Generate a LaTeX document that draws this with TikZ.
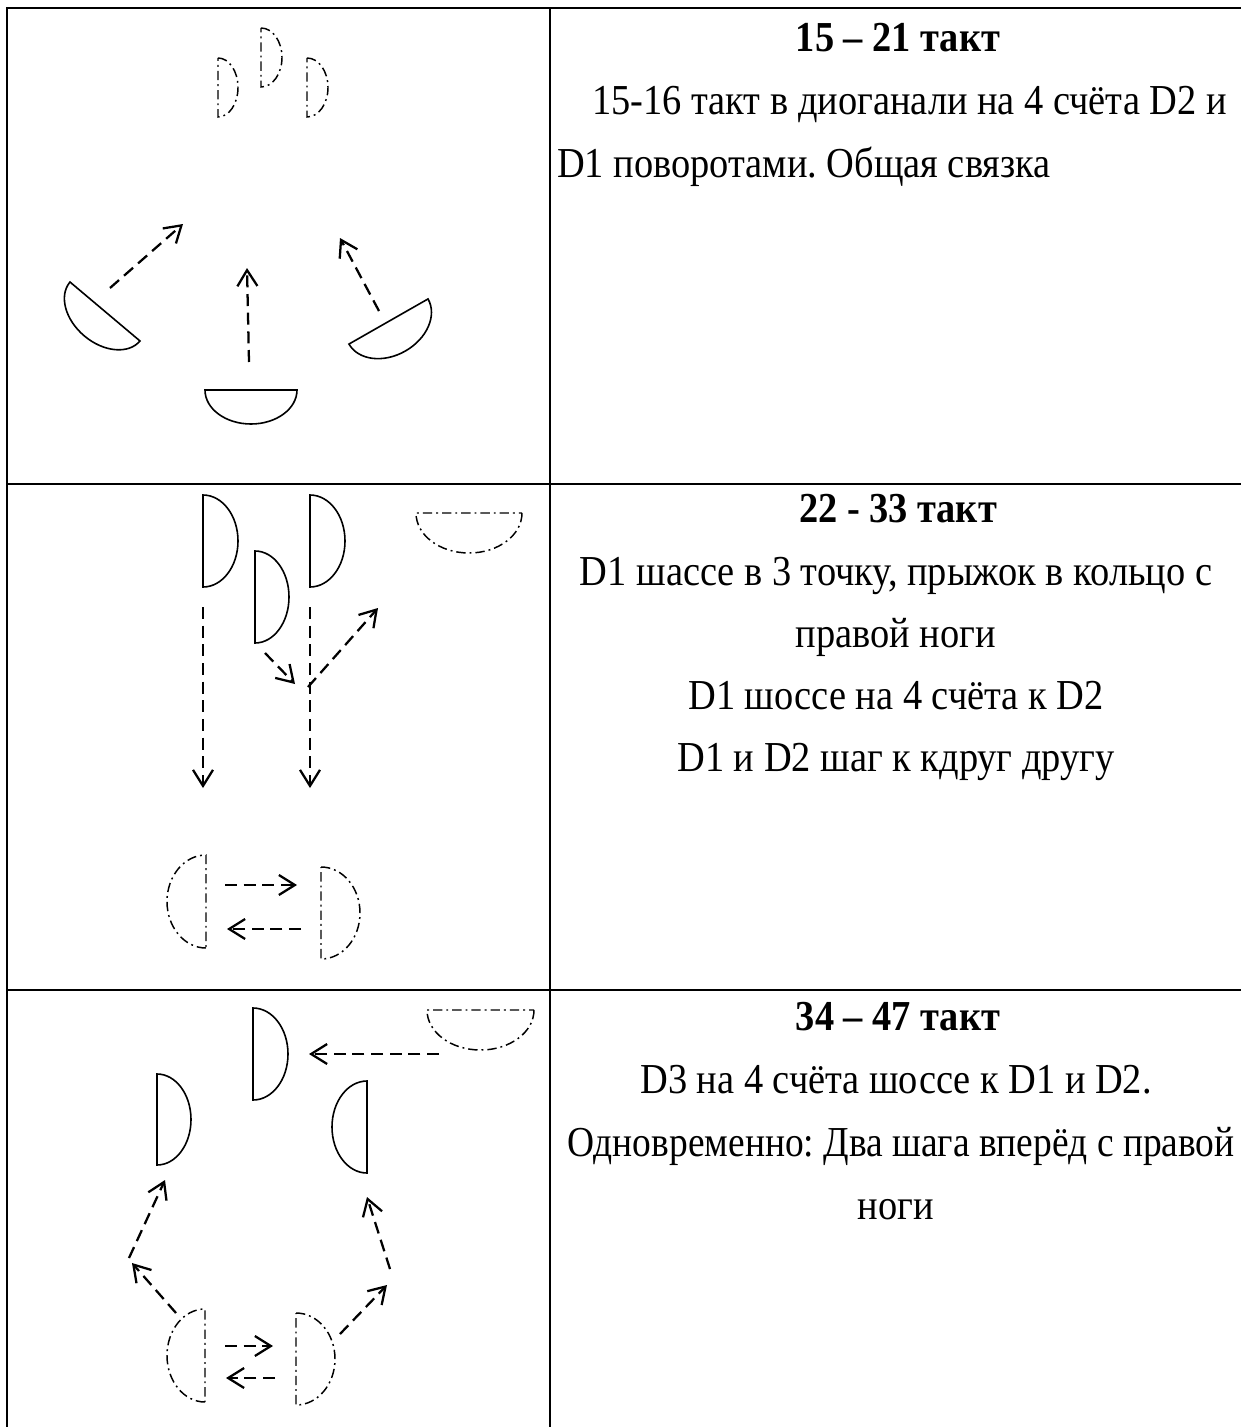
\documentclass[tikz,border=0pt]{standalone}
\usepackage{fontspec}
\setmainfont{Liberation Serif}[FakeStretch=0.9]
\usetikzlibrary{arrows.meta}
\newcommand\halfel[6]{%
  \draw[#1, shift={(#2,-#3)}, rotate=#4] (#5,0) arc[start angle=0, end angle=-180, x radius=#5, y radius=#6] -- cycle;}
\frenchspacing
\begin{document}
\begin{tikzpicture}[x=0.75pt,y=0.75pt,
  grid/.style={line width=1.5pt},
  solidD/.style={line width=1.2pt},
  dotD/.style={line width=1.1pt, dash pattern=on 7pt off 3pt on 1.4pt off 3pt},
  mv/.style={line width=1.7pt, dash pattern=on 9pt off 5pt,
    -{Straight Barb[length=12pt,width=15pt,line width=1.7pt]}},
  txt/.style={inner sep=0pt, font=\fontsize{32}{37}\selectfont},
  ttl/.style={inner sep=0pt, font=\fontsize{32}{37}\selectfont\bfseries}]
\useasboundingbox (0,0) rectangle (1241,-1427);
\fill[white] (0,0) rectangle (1241,-1427);
% table
\draw[grid] (1241,-8) -- (7,-8) -- (7,-1427);
\draw[grid] (550,-8) -- (550,-1427);
\draw[grid] (7,-484) -- (1241,-484);
\draw[grid] (7,-990) -- (1241,-990);
% ---------- row 1 ----------
\halfel{dotD}{218}{87.5}{90}{29.5}{20}
\halfel{dotD}{261}{57.5}{90}{29.5}{21}
\halfel{dotD}{307}{87.5}{90}{29.5}{21}
\halfel{solidD}{105}{311.5}{-40.1}{45.75}{32}
\halfel{solidD}{251}{390}{0}{46}{34}
\halfel{solidD}{388.5}{321.5}{29.7}{45.5}{34}
\coordinate (a1s) at (110,-288); \coordinate (a1e) at (183,-224);
\coordinate (a2s) at (249,-362); \coordinate (a2e) at (247,-268);
\coordinate (a3s) at (379,-311); \coordinate (a3e) at (340,-238);
\draw[mv] (a1s) -- (a1e);
\draw[mv] (a2s) -- (a2e);
\draw[mv] (a3s) -- (a3e);
\node[ttl, anchor=base] (t1) at (898,-52) {15 – 21 такт};
\node[txt, anchor=base west] (t1a) at (592,-115) {15-16 такт в диоганали на 4 счёта D2 и};
\node[txt, anchor=base west] (t1b) at (557,-177) {D1 поворотами. Общая связка};
% ---------- row 2 ----------
\halfel{solidD}{203}{541}{90}{46}{35}
\halfel{solidD}{255}{597}{90}{46}{34}
\halfel{solidD}{310}{541}{90}{46}{35}
\halfel{dotD}{469}{513}{0}{53}{40}
\halfel{dotD}{206}{901.5}{-90}{46.5}{39}
\halfel{dotD}{321}{913}{90}{46}{39}
\coordinate (b1s) at (203,-607); \coordinate (b1e) at (203,-788);
\coordinate (b2s) at (310,-607); \coordinate (b2e) at (310,-788);
\coordinate (b3s) at (265,-653); \coordinate (b3e) at (295,-684);
\coordinate (b4s) at (308,-687); \coordinate (b4e) at (378,-608);
\coordinate (b5s) at (225,-885); \coordinate (b5e) at (297,-885);
\coordinate (b6s) at (301,-929); \coordinate (b6e) at (227,-929);
\draw[mv] (b1s) -- (b1e);
\draw[mv] (b2s) -- (b2e);
\draw[mv] (b3s) -- (b3e);
\draw[mv] (b4s) -- (b4e);
\draw[mv] (b5s) -- (b5e);
\draw[mv] (b6s) -- (b6e);
\node[ttl, anchor=base] (t2) at (898,-522) {22 - 33 такт};
\node[txt, anchor=base] (t2a) at (896,-585) {D1 шассе в 3 точку, прыжок в кольцо с};
\node[txt, anchor=base] (t2b) at (896,-647) {правой ноги};
\node[txt, anchor=base] (t2c) at (896,-709) {D1 шоссе на 4 счёта к D2};
\node[txt, anchor=base] (t2d) at (896,-771) {D1 и D2 шаг к кдруг другу};
% ---------- row 3 ----------
\halfel{solidD}{253}{1054}{90}{46}{35}
\halfel{dotD}{480.5}{1010}{0}{53.5}{40}
\halfel{solidD}{157}{1119.5}{90}{45.5}{34}
\halfel{solidD}{367}{1127}{-90}{46}{35}
\halfel{dotD}{205}{1355.5}{-90}{46.5}{38}
\halfel{dotD}{296}{1359}{90}{46}{39}
\coordinate (c1s) at (439,-1054); \coordinate (c1e) at (309,-1054);
\coordinate (c2s) at (129,-1258); \coordinate (c2e) at (165,-1180);
\coordinate (c3s) at (176,-1313); \coordinate (c3e) at (132,-1263);
\coordinate (c4s) at (340,-1334); \coordinate (c4e) at (387,-1285);
\coordinate (c5s) at (390,-1269); \coordinate (c5e) at (367,-1197);
\coordinate (c6s) at (225,-1346); \coordinate (c6e) at (273,-1346);
\coordinate (c7s) at (275,-1378); \coordinate (c7e) at (226,-1378);
\draw[mv] (c1s) -- (c1e);
\draw[mv] (c2s) -- (c2e);
\draw[mv] (c3s) -- (c3e);
\draw[mv] (c4s) -- (c4e);
\draw[mv] (c5s) -- (c5e);
\draw[mv] (c6s) -- (c6e);
\draw[mv] (c7s) -- (c7e);
\node[ttl, anchor=base] (t3) at (898,-1030) {34 – 47 такт};
\node[txt, anchor=base] (t3a) at (896,-1093) {D3 на 4 счёта шоссе к D1 и D2.};
\node[txt, anchor=base] (t3b) at (901,-1156) {\scalebox{0.975}[1]{Одновременно: Два шага вперёд с правой}};
\node[txt, anchor=base] (t3c) at (896,-1219) {ноги};
\end{tikzpicture}
\end{document}
